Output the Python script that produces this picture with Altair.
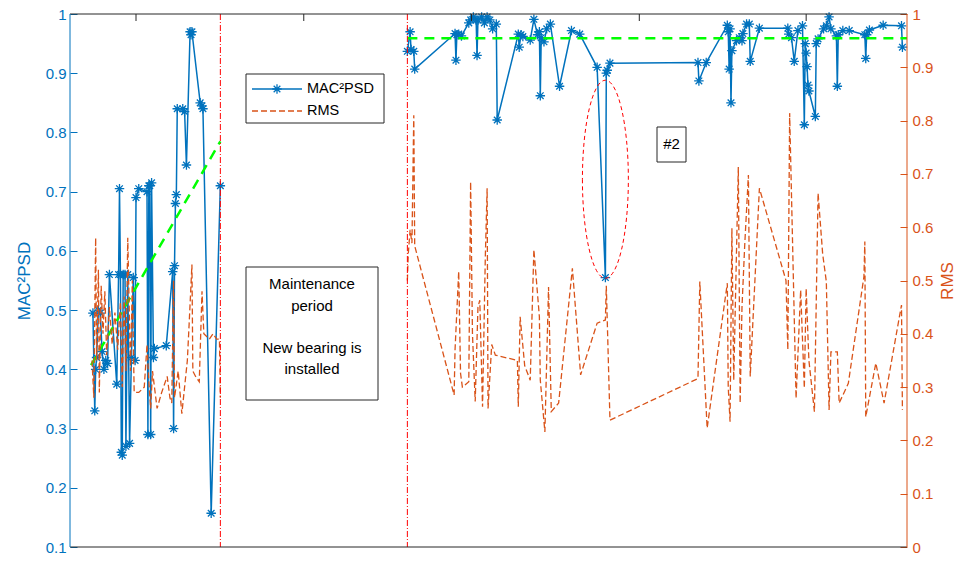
import altair as alt
import pandas as pd

FONT = "Liberation Sans"
BLUE = "#0072BD"
ORANGE = "#D95319"
GREEN = "#00FF00"
RED = "#FF0000"
INK = "#262626"
W, H = 837, 533

# ---------------- data ----------------
mac_dates_before = [
    "2015-04-15", "2015-04-17", "2015-04-18", "2015-04-19", "2015-04-21", "2015-04-23",
    "2015-04-25", "2015-04-27", "2015-04-29", "2015-05-01", "2015-05-03", "2015-05-11",
    "2015-05-13", "2015-05-14", "2015-05-15", "2015-05-16", "2015-05-17", "2015-05-18",
    "2015-05-20", "2015-05-21", "2015-05-23", "2015-05-25", "2015-05-27", "2015-05-29",
    "2015-05-31", "2015-06-01", "2015-06-04", "2015-06-13", "2015-06-14", "2015-06-15",
    "2015-06-16", "2015-06-17", "2015-06-18", "2015-06-20", "2015-06-21", "2015-07-04",
    "2015-07-11", "2015-07-12", "2015-07-13", "2015-07-14", "2015-07-15", "2015-07-16",
    "2015-07-22", "2015-07-24", "2015-07-26", "2015-07-30", "2015-07-31", "2015-08-01",
    "2015-08-10", "2015-08-12", "2015-08-13", "2015-08-22", "2015-09-01",
]
mac_values_before = [
    0.495, 0.33, 0.40, 0.42, 0.50, 0.495,
    0.43, 0.40, 0.415, 0.41, 0.56, 0.375,
    0.56, 0.705, 0.56, 0.26, 0.255, 0.56,
    0.56, 0.27, 0.56, 0.275, 0.42, 0.555,
    0.415, 0.69, 0.705, 0.70, 0.29, 0.71,
    0.71, 0.29, 0.715, 0.42, 0.435, 0.44,
    0.565, 0.30, 0.575, 0.68, 0.695, 0.84,
    0.84, 0.835, 0.745, 0.97, 0.965, 0.97,
    0.85, 0.845, 0.84, 0.157, 0.71,
]
mac_dates_after = [
    "2016-03-23", "2016-03-26", "2016-03-27", "2016-03-30", "2016-03-31", "2016-05-14",
    "2016-05-15", "2016-05-16", "2016-05-18", "2016-05-21", "2016-05-29", "2016-05-31",
    "2016-06-03", "2016-06-06", "2016-06-07", "2016-06-08", "2016-06-12", "2016-06-15",
    "2016-06-18", "2016-06-21", "2016-06-24", "2016-06-28", "2016-06-29", "2016-07-22",
    "2016-07-23", "2016-07-25", "2016-07-27", "2016-08-04", "2016-08-08", "2016-08-12",
    "2016-08-14", "2016-08-15", "2016-08-16", "2016-08-19", "2016-08-22", "2016-08-26",
    "2016-09-05", "2016-09-18", "2016-09-27", "2016-10-16", "2016-10-25", "2016-10-26",
    "2016-10-27", "2016-10-30", "2017-02-03", "2017-02-04", "2017-02-12", "2017-03-07",
    "2017-03-08", "2017-03-09", "2017-03-10", "2017-03-11", "2017-03-12", "2017-03-17",
    "2017-03-20", "2017-03-23", "2017-03-24", "2017-03-28", "2017-03-31", "2017-04-01",
    "2017-04-11", "2017-05-12", "2017-05-13", "2017-05-16", "2017-05-19", "2017-05-23",
    "2017-05-28", "2017-05-30", "2017-05-31", "2017-06-01", "2017-06-02", "2017-06-03",
    "2017-06-04", "2017-06-11", "2017-06-12", "2017-06-14", "2017-06-20", "2017-06-23",
    "2017-06-26", "2017-06-28", "2017-07-04", "2017-07-05", "2017-07-06", "2017-07-11",
    "2017-07-18", "2017-08-04", "2017-08-05", "2017-08-06", "2017-08-09", "2017-08-24",
    "2017-09-13", "2017-09-14",
]
mac_values_after = [
    0.937, 0.97, 0.94, 0.937, 0.907, 0.967,
    0.922, 0.965, 0.966, 0.963, 0.985, 0.99,
    0.995, 0.99, 0.93, 0.99, 0.995, 0.985,
    0.995, 0.99, 0.975, 0.983, 0.821, 0.966,
    0.944, 0.965, 0.962, 0.956, 0.991, 0.965,
    0.97, 0.862, 0.96, 0.953, 0.975, 0.983,
    0.878, 0.972, 0.966, 0.91, 0.555, 0.90,
    0.905, 0.917, 0.918, 0.887, 0.918, 0.981,
    0.97, 0.907, 0.975, 0.85, 0.938, 0.955,
    0.96, 0.955, 0.967, 0.983, 0.983, 0.92,
    0.976, 0.976, 0.966, 0.96, 0.92, 0.972,
    0.98, 0.813, 0.95, 0.934, 0.911, 0.88,
    0.87, 0.827, 0.95, 0.958, 0.975, 0.98,
    0.995, 0.975, 0.963, 0.878, 0.965, 0.972,
    0.972, 0.965, 0.925, 0.965, 0.973, 0.981,
    0.98, 0.944,
]
rms_dates_before = [
    "2015-04-14", "2015-04-16", "2015-04-18", "2015-04-19", "2015-04-21", "2015-04-22",
    "2015-04-24", "2015-04-26", "2015-04-28", "2015-04-30", "2015-05-03", "2015-05-06",
    "2015-05-09", "2015-05-12", "2015-05-15", "2015-05-17", "2015-05-19", "2015-05-21",
    "2015-05-23", "2015-05-26", "2015-05-28", "2015-05-30", "2015-06-04", "2015-06-10",
    "2015-06-13", "2015-06-15", "2015-06-17", "2015-06-19", "2015-06-24", "2015-06-29",
    "2015-07-05", "2015-07-08", "2015-07-10", "2015-07-12", "2015-07-13", "2015-07-17",
    "2015-07-21", "2015-07-24", "2015-07-27", "2015-07-29", "2015-08-01", "2015-08-02",
    "2015-08-05", "2015-08-09", "2015-08-12", "2015-08-14", "2015-08-20", "2015-08-24",
    "2015-08-28", "2015-08-31", "2015-09-01",
]
rms_values_before = [
    0.35, 0.28, 0.58, 0.35, 0.52, 0.29,
    0.49, 0.40, 0.48, 0.36, 0.45, 0.38,
    0.44, 0.37, 0.46, 0.30, 0.47, 0.33,
    0.58, 0.33, 0.50, 0.29, 0.29, 0.30,
    0.38, 0.31, 0.26, 0.33, 0.26, 0.29,
    0.32, 0.28, 0.27, 0.50, 0.28, 0.33,
    0.25, 0.30, 0.35, 0.42, 0.53, 0.33,
    0.32, 0.31, 0.48, 0.40, 0.39, 0.40,
    0.39, 0.39, 0.28,
]
rms_dates_after = [
    "2016-03-23", "2016-03-24", "2016-03-26", "2016-03-28", "2016-03-30", "2016-03-31",
    "2016-05-13", "2016-05-14", "2016-05-18", "2016-05-20", "2016-05-22", "2016-05-29",
    "2016-05-31", "2016-06-02", "2016-06-05", "2016-06-08", "2016-06-10", "2016-06-13",
    "2016-06-16", "2016-06-18", "2016-06-19", "2016-06-23", "2016-06-27", "2016-07-21",
    "2016-07-22", "2016-07-24", "2016-07-29", "2016-08-04", "2016-08-08", "2016-08-14",
    "2016-08-15", "2016-08-20", "2016-08-24", "2016-08-27", "2016-09-04", "2016-09-19",
    "2016-09-28", "2016-10-16", "2016-10-25", "2016-10-26", "2016-10-30", "2017-02-03",
    "2017-02-05", "2017-02-13", "2017-03-07", "2017-03-08", "2017-03-10", "2017-03-12",
    "2017-03-14", "2017-03-19", "2017-03-21", "2017-03-23", "2017-03-26", "2017-03-30",
    "2017-04-01", "2017-04-11", "2017-05-10", "2017-05-12", "2017-05-14", "2017-05-21",
    "2017-05-26", "2017-05-30", "2017-06-01", "2017-06-04", "2017-06-10", "2017-06-14",
    "2017-06-19", "2017-06-23", "2017-06-26", "2017-06-28", "2017-07-05", "2017-07-07",
    "2017-07-17", "2017-08-03", "2017-08-04", "2017-08-05", "2017-08-16", "2017-08-25",
    "2017-09-13", "2017-09-14",
]
rms_values_after = [
    0.50, 0.55, 0.595, 0.57, 0.81, 0.565,
    0.285, 0.37, 0.517, 0.326, 0.30, 0.31,
    0.685, 0.40, 0.273, 0.45, 0.463, 0.263,
    0.542, 0.673, 0.26, 0.38, 0.36, 0.35,
    0.263, 0.432, 0.34, 0.313, 0.558, 0.432,
    0.313, 0.216, 0.488, 0.254, 0.27, 0.523,
    0.323, 0.42, 0.426, 0.49, 0.238, 0.316,
    0.498, 0.223, 0.495, 0.30, 0.235, 0.598,
    0.313, 0.713, 0.27, 0.45, 0.567, 0.698,
    0.32, 0.673, 0.50, 0.37, 0.814, 0.279,
    0.482, 0.298, 0.485, 0.35, 0.254, 0.664,
    0.55, 0.498, 0.257, 0.366, 0.366, 0.27,
    0.307, 0.507, 0.573, 0.244, 0.345, 0.27,
    0.454, 0.257,
]
trend_dates = ["2015-04-13", "2015-09-01", "2016-03-23", "2017-09-19"]
trend_values = [0.407, 0.785, 0.959, 0.959]
trend_period = ["before", "before", "after", "after"]
event_dates = ["2015-09-01", "2016-03-23"]
ellipse_date = ["2016-10-25"]
ellipse_value = [0.721]
x_tick_dates = ["2015-06-01", "2015-12-01", "2016-06-01", "2016-12-01", "2017-06-01"]
mac_ticks = [0.1, 0.2, 0.3, 0.4, 0.5, 0.6, 0.7, 0.8, 0.9, 1.0]
rms_ticks = [0.0, 0.1, 0.2, 0.3, 0.4, 0.5, 0.6, 0.7, 0.8, 0.9, 1.0]
x_domain = ["2015-03-21", "2017-09-19"]

# ---------------- tables ----------------
def table(dates, values, period):
    return pd.DataFrame({"date": dates, "value": values, "period": period})

mac_df = pd.concat([table(mac_dates_before, mac_values_before, "before"),
                    table(mac_dates_after, mac_values_after, "after")], ignore_index=True)
rms_df = pd.concat([table(rms_dates_before, rms_values_before, "before"),
                    table(rms_dates_after, rms_values_after, "after")], ignore_index=True)
trend_df = pd.DataFrame({"date": trend_dates, "value": trend_values, "period": trend_period})


def dt(s):
    y, m, d = (int(p) for p in s.split("-"))
    return alt.DateTime(year=y, month=m, date=d, utc=True)


STAR = "M0,-1L0,1M-1,0L1,0M-0.7,-0.7L0.7,0.7M-0.7,0.7L0.7,-0.7"
ELLIPSE = "M-0.232,0A0.232,1,0,1,0,0.232,0A0.232,1,0,1,0,-0.232,0Z"

x_scale = alt.Scale(type="utc", domain=[dt(x_domain[0]), dt(x_domain[1])])
x_axis = alt.Axis(values=[dt(s) for s in x_tick_dates],
                  labelExpr="utcFormat(datum.value, '%b. %Y')",
                  offset=-7, tickSize=7, domain=False, grid=False,
                  tickColor=INK, labelColor=INK, labelFont=FONT, labelFontSize=15,
                  labelPadding=6, title=None)
Xa = alt.X("date:T", scale=x_scale, axis=x_axis)
Xn = alt.X("date:T", scale=x_scale, axis=None)


def mac_scale():
    return alt.Scale(domain=[0.1, 1.0], nice=False, zero=False)


def rms_scale():
    return alt.Scale(domain=[0.0, 1.0], nice=False, zero=False)


mac_axis = alt.Axis(orient="left", values=mac_ticks, format="~g", offset=-7, tickSize=7,
                    domain=False, grid=False, tickColor=BLUE, labelColor=BLUE,
                    labelFont=FONT, labelFontSize=15, labelPadding=4,
                    title="MAC²PSD", titleColor=BLUE, titleFont=FONT, titleFontSize=17,
                    titleFontWeight="normal", titlePadding=12, titleAngle=270)
rms_axis = alt.Axis(orient="right", values=rms_ticks, format="~g", offset=-7, tickSize=7,
                    domain=False, grid=False, tickColor=ORANGE, labelColor=ORANGE,
                    labelFont=FONT, labelFontSize=15, labelPadding=5,
                    title="RMS", titleColor=ORANGE, titleFont=FONT, titleFontSize=17,
                    titleFontWeight="normal", titlePadding=24, titleAngle=270)

mac_line = alt.Chart(mac_df).mark_line(color=BLUE, strokeWidth=1.5).encode(
    x=Xa, y=alt.Y("value:Q", scale=mac_scale(), axis=mac_axis), detail="period:N")
mac_pts = alt.Chart(mac_df).mark_point(shape=STAR, size=90, filled=False, color=BLUE,
                                       strokeWidth=1.3, opacity=1).encode(
    x=Xn, y=alt.Y("value:Q", scale=mac_scale(), axis=None))
trend = alt.Chart(trend_df).mark_line(color=GREEN, strokeWidth=2.5, strokeDash=[10, 7]).encode(
    x=Xn, y=alt.Y("value:Q", scale=mac_scale(), axis=None), detail="period:N")
ellipse = alt.Chart(pd.DataFrame({"date": ellipse_date, "value": ellipse_value})).mark_point(
    shape=ELLIPSE, size=39204, filled=False, color=RED, strokeWidth=1,
    strokeDash=[4, 3], opacity=1).encode(
    x=Xn, y=alt.Y("value:Q", scale=mac_scale(), axis=None))

rms_line = alt.Chart(rms_df).mark_line(color=ORANGE, strokeWidth=1.3, strokeDash=[6, 3]).encode(
    x=Xn, y=alt.Y("value:Q", scale=rms_scale(), axis=rms_axis), detail="period:N")

events = alt.Chart(pd.DataFrame({"date": event_dates})).mark_rule(
    color=RED, strokeWidth=1, strokeDash=[6, 2, 1, 2]).encode(x=Xn)
top_ticks = alt.Chart(pd.DataFrame({"date": x_tick_dates})).mark_rule(
    color=INK, strokeWidth=1).encode(x=Xn, y=alt.value(0), y2=alt.value(7))

one = alt.Data(values=[{}])


def hline(x1, x2, y, color, width=1, dash=None):
    kw = dict(color=color, strokeWidth=width)
    if dash:
        kw["strokeDash"] = dash
    return alt.Chart(one).mark_rule(**kw).encode(x=alt.value(x1), x2=alt.value(x2), y=alt.value(y))


def vline(x, y1, y2, color, width=1):
    return alt.Chart(one).mark_rule(color=color, strokeWidth=width).encode(
        x=alt.value(x), y=alt.value(y1), y2=alt.value(y2))


def box(x1, x2, y1, y2):
    return alt.Chart(one).mark_rect(fill="white", stroke=INK, strokeWidth=1).encode(
        x=alt.value(x1), x2=alt.value(x2), y=alt.value(y1), y2=alt.value(y2))


def label(x, y, txt, align="center", size=15):
    return alt.Chart(one).mark_text(align=align, baseline="middle", font=FONT,
                                    fontSize=size, color="black").encode(
        x=alt.value(x), y=alt.value(y), text=alt.value(txt))


frame = [
    hline(0, W, 0, INK), hline(0, W, H, INK),
    vline(0, 0, H, BLUE), vline(W, 0, H, ORANGE),
]

legend = [
    box(176, 314, 60, 109),
    hline(182, 232, 75, BLUE, 1.5),
    alt.Chart(one).mark_point(shape=STAR, size=90, filled=False, color=BLUE,
                              strokeWidth=1.3, opacity=1).encode(
        x=alt.value(207), y=alt.value(75)),
    label(237, 75, "MAC²PSD", align="left", size=14.5),
    hline(182, 232, 97, ORANGE, 1.3, [6, 3]),
    label(237, 97, "RMS", align="left", size=14.5),
]

notes = [
    box(176, 308, 253, 386),
    label(242, 270, "Maintenance"),
    label(242, 292, "period"),
    label(242, 334, "New bearing is"),
    label(242, 355, "installed"),
    box(587, 616, 113, 148),
    label(601.5, 130, "#2"),
]

chart = alt.layer(
    mac_line, mac_pts, trend, rms_line, events, ellipse, top_ticks, *frame, *legend, *notes
).resolve_scale(y="independent").properties(
    width=W, height=H,
    autosize=alt.AutoSizeParams(type="none"),
    padding={"left": 70, "top": 14, "right": 53, "bottom": 29},
    background="white",
).configure_view(stroke=None)

chart.save("out.html", embed_options={"renderer": "svg", "actions": False})
